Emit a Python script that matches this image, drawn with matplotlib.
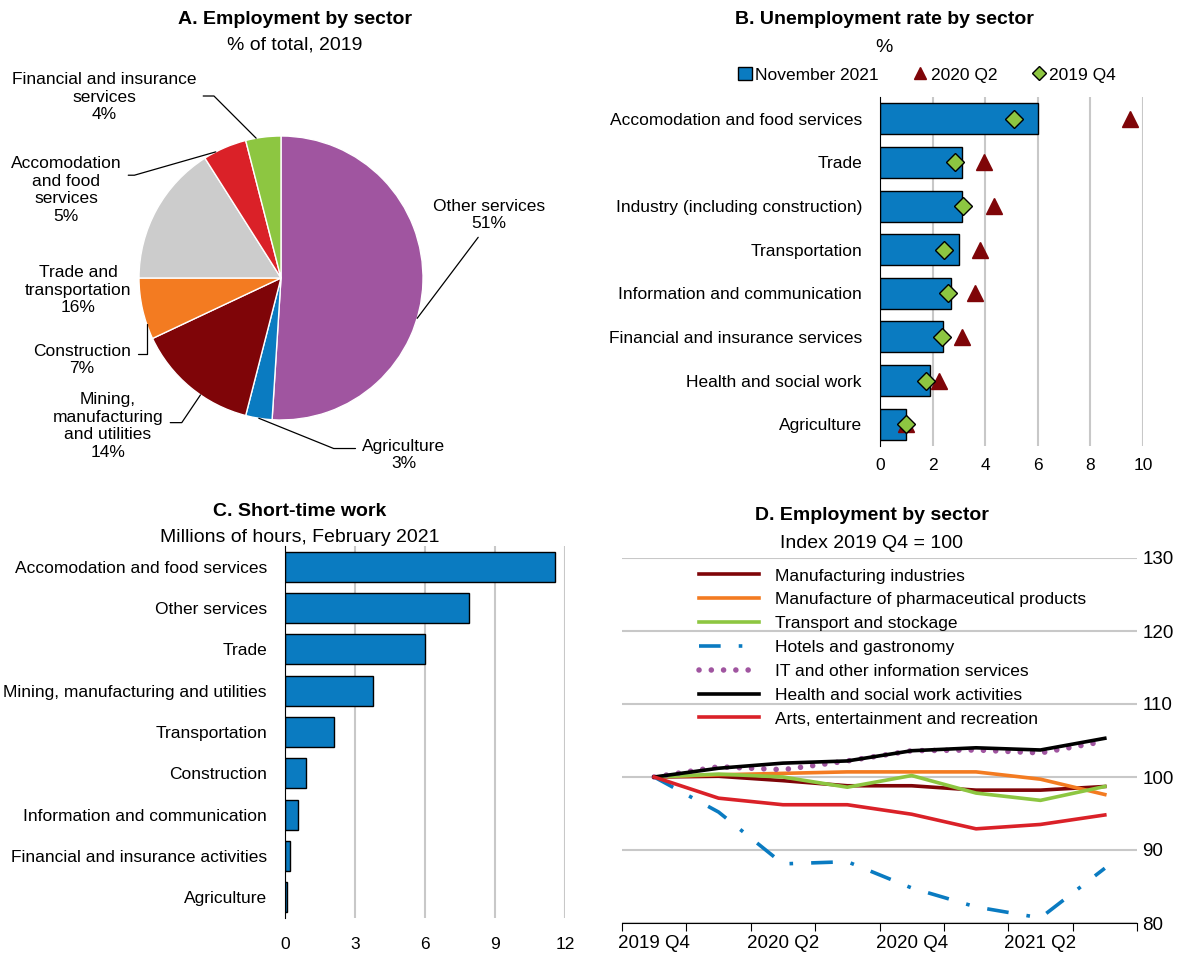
import numpy as np
import matplotlib
matplotlib.use('Agg')
from matplotlib import pyplot as plt
from matplotlib.patches import Patch
from matplotlib.lines import Line2D

plt.rcParams['font.family'] = ['Liberation Sans', 'DejaVu Sans']
plt.rcParams['font.size'] = 12.5

# A. Employment by sector, % of total 2019
pie_labels = ['Other services\n51%', 'Agriculture\n3%',
              'Mining,\nmanufacturing\nand utilities\n14%', 'Construction\n7%',
              'Trade and\ntransportation\n16%', 'Accomodation\nand food\nservices\n5%',
              'Financial and insurance\nservices\n4%']
pie_values = [51, 3, 14, 7, 16, 5, 4]
pie_colors = ['#A055A0', '#0A7BC1', '#7F0508', '#F37B21', '#CCCCCC', '#DA2128', '#8DC641']

# B. Unemployment rate by sector, %
b_sectors = ['Accomodation and food services', 'Trade', 'Industry (including construction)',
             'Transportation', 'Information and communication',
             'Financial and insurance services', 'Health and social work', 'Agriculture']
b_nov2021 = [6.0, 3.1, 3.1, 3.0, 2.7, 2.4, 1.9, 1.0]
b_2020q2 = [9.5, 3.95, 4.35, 3.8, 3.6, 3.1, 2.25, 1.0]
b_2019q4 = [5.1, 2.85, 3.15, 2.45, 2.6, 2.35, 1.75, 1.0]

# C. Short-time work, millions of hours, Feb 2021
c_sectors = ['Accomodation and food services', 'Other services', 'Trade',
             'Mining, manufacturing and utilities', 'Transportation', 'Construction',
             'Information and communication', 'Financial and insurance activities',
             'Agriculture']
c_hours = [11.55, 7.9, 6.0, 3.75, 2.1, 0.9, 0.57, 0.23, 0.08]

# D. Employment by sector, index 2019 Q4 = 100
quarters = ['2019 Q4', '2020 Q1', '2020 Q2', '2020 Q3', '2020 Q4', '2021 Q1', '2021 Q2', '2021 Q3']
manufacturing = [100, 100.1, 99.5, 98.8, 98.8, 98.2, 98.2, 98.7]
pharma = [100, 100.3, 100.5, 100.7, 100.7, 100.7, 99.7, 97.6]
transport = [100, 100.4, 100.0, 98.6, 100.2, 97.8, 96.8, 98.7]
hotels = [100, 95.2, 88.1, 88.4, 84.8, 82.2, 80.7, 87.5]
it_services = [100, 101.4, 101.0, 102.2, 103.6, 103.7, 103.3, 104.9]
health = [100, 101.2, 101.9, 102.2, 103.6, 104.0, 103.7, 105.3]
arts = [100, 97.1, 96.2, 96.2, 94.9, 92.9, 93.5, 94.8]

W, H = 1193, 959
fig = plt.figure(figsize=(W / 100, H / 100), dpi=100)


def px_axes(l, t, r, b):
    return fig.add_axes([l / W, 1 - b / H, (r - l) / W, (b - t) / H])


GRID = '#C8C8C8'
TFS, SFS = 14, 14

# ---------------- A ----------------
fig.text(295 / W, 1 - 20 / H, 'A. Employment by sector', ha='center', va='center', weight='bold', fontsize=TFS)
fig.text(295 / W, 1 - 45 / H, '% of total, 2019', ha='center', va='center', fontsize=SFS)
axA = px_axes(0, 60, 600, 480)
wedges, _ = axA.pie(pie_values, colors=pie_colors, startangle=90, counterclock=False,
                    wedgeprops=dict(edgecolor='white', linewidth=1))
s = 142.0
axA.set_xlim(-281 / s, (600 - 281) / s)
axA.set_ylim((278 - 480) / s, (278 - 60) / s)
axA.set_aspect('auto')
# label layout: text centre (px), spot on the wedge rim (fraction), start on text bbox, elbow angle
label_pos = [(489, 215), (404, 455), (108, 426), (82, 360), (78, 290), (66, 190), (104, 97)]
leader_frac = [0.42, 0.5, 0.6, 0.75, None, 0.72, 0.7]
leader_rel = [(0.28, 0.25), (0.0, 0.7), (1.0, 0.55), (1.0, 0.7), None, (1.0, 0.72), (1.0, 0.52)]
leader_ang = [53, 158, 56, 90, None, 16, 135]
for w, lab, (px, py), f, rel, a in zip(wedges, pie_labels, label_pos, leader_frac, leader_rel, leader_ang):
    tx, ty = (px - 281) / s, (278 - py) / s
    if f is None:
        axA.text(tx, ty, lab, ha='center', va='center', linespacing=1.2)
        continue
    ang = np.deg2rad(w.theta1 + f * (w.theta2 - w.theta1))
    axA.annotate(lab, xy=(np.cos(ang), np.sin(ang)), xytext=(tx, ty), ha='center', va='center',
                 linespacing=1.2,
                 arrowprops=dict(arrowstyle='-', color='black', lw=0.9, shrinkA=3, shrinkB=0,
                                 relpos=rel, connectionstyle='angle,angleA=0,angleB=%d,rad=0' % a))

# ---------------- B ----------------
fig.text(884 / W, 1 - 20 / H, 'B. Unemployment rate by sector', ha='center', va='center', weight='bold', fontsize=TFS)
fig.text(884 / W, 1 - 47 / H, '%', ha='center', va='center', fontsize=SFS)
axB = px_axes(880, 97, 1143, 446)
yb = np.arange(len(b_sectors))
axB.barh(yb, b_nov2021, height=0.71, color='#0A7BC1', edgecolor='black', linewidth=1, zorder=2)
axB.plot(b_2020q2, yb, linestyle='none', marker='^', markersize=11, color='#7F0508', zorder=3)
axB.plot(b_2019q4, yb, linestyle='none', marker='D', markersize=9, markerfacecolor='#8DC641',
         markeredgecolor='black', markeredgewidth=1, zorder=4)
axB.set_xlim(0, 10)
axB.set_ylim(len(b_sectors) - 0.5, -0.5)
axB.set_yticks(yb)
axB.set_yticklabels(b_sectors)
axB.set_xticks(np.arange(0, 11, 2))
axB.xaxis.grid(True, color=GRID, lw=1.5, zorder=0)
axB.set_axisbelow(True)
axB.tick_params(axis='y', length=0, pad=13)
axB.tick_params(axis='x', length=0, pad=9)
for sp in ['top', 'right', 'bottom']:
    axB.spines[sp].set_visible(False)
axB.spines['left'].set_color('black')
handles = [Patch(facecolor='#0A7BC1', edgecolor='black', label='November 2021'),
           Line2D([], [], linestyle='none', marker='^', markersize=9, color='#7F0508', label='2020 Q2'),
           Line2D([], [], linestyle='none', marker='D', markersize=7, markerfacecolor='#8DC641',
                  markeredgecolor='black', label='2019 Q4')]
fig.legend(handles=handles, loc='center', bbox_to_anchor=(927 / W, 1 - 75 / H), ncol=3,
           frameon=False, handlelength=0.8, handleheight=0.8, handletextpad=0.2,
           columnspacing=2.0)

# ---------------- C ----------------
fig.text(300 / W, 1 - 512 / H, 'C. Short-time work', ha='center', va='center', weight='bold', fontsize=TFS)
fig.text(300 / W, 1 - 537 / H, 'Millions of hours, February 2021', ha='center', va='center', fontsize=SFS)
axC = px_axes(285, 546, 565, 918)
yc = np.arange(len(c_sectors))
axC.barh(yc, c_hours, height=0.72, color='#0A7BC1', edgecolor='black', linewidth=1, zorder=2)
axC.set_xlim(0, 12)
axC.set_ylim(len(c_sectors) - 0.5, -0.5)
axC.set_yticks(yc)
axC.set_yticklabels(c_sectors)
axC.set_xticks(np.arange(0, 13, 3))
axC.xaxis.grid(True, color=GRID, lw=1.5, zorder=0)
axC.set_axisbelow(True)
axC.tick_params(axis='y', length=0, pad=13)
axC.tick_params(axis='x', length=0, pad=14)
for sp in ['top', 'right', 'bottom']:
    axC.spines[sp].set_visible(False)

# ---------------- D ----------------
fig.text(872 / W, 1 - 515 / H, 'D. Employment by sector', ha='center', va='center', weight='bold', fontsize=TFS)
fig.text(872 / W, 1 - 543 / H, 'Index 2019 Q4 = 100', ha='center', va='center', fontsize=SFS)
axD = px_axes(622, 558, 1137, 923)
xd = np.arange(len(quarters))
lw = 2.6
axD.plot(xd, manufacturing, color='#7F0508', lw=lw, label='Manufacturing industries')
axD.plot(xd, pharma, color='#F37B21', lw=lw, label='Manufacture of pharmaceutical products')
axD.plot(xd, transport, color='#8DC641', lw=lw, label='Transport and stockage')
axD.plot(xd, hotels, color='#0A7BC1', lw=lw, dashes=(6, 5, 1, 5), label='Hotels and gastronomy')
axD.plot(xd, it_services, color='#A055A0', lw=4, linestyle=(0, (0.01, 2.2)), dash_capstyle='round',
         label='IT and other information services')
axD.plot(xd, health, color='black', lw=lw, label='Health and social work activities')
axD.plot(xd, arts, color='#DA2128', lw=lw, label='Arts, entertainment and recreation')
axD.set_xlim(-0.5, len(quarters) - 0.5)
axD.set_ylim(80, 130)
axD.set_yticks(np.arange(80, 131, 10))
axD.yaxis.tick_right()
axD.yaxis.grid(True, color=GRID, lw=1.5)
axD.set_axisbelow(True)
axD.tick_params(axis='y', length=0, pad=4, labelsize=13.5)
axD.set_xticks(np.arange(-0.5, len(quarters)))
axD.set_xticklabels([])
axD.set_xticks(xd[::2], minor=True)
axD.set_xticklabels(quarters[::2], minor=True)
axD.tick_params(axis='x', which='major', direction='out', length=6, color='black')
axD.tick_params(axis='x', which='minor', length=0, pad=9, labelsize=13.5)
for sp in ['top', 'right', 'left']:
    axD.spines[sp].set_visible(False)
axD.legend(loc='upper left', bbox_to_anchor=(0.13, 1.0), frameon=False, handlelength=3.45,
           handletextpad=0.9, labelspacing=0.5, borderaxespad=0.2)

fig.savefig('out.png', dpi=100)
